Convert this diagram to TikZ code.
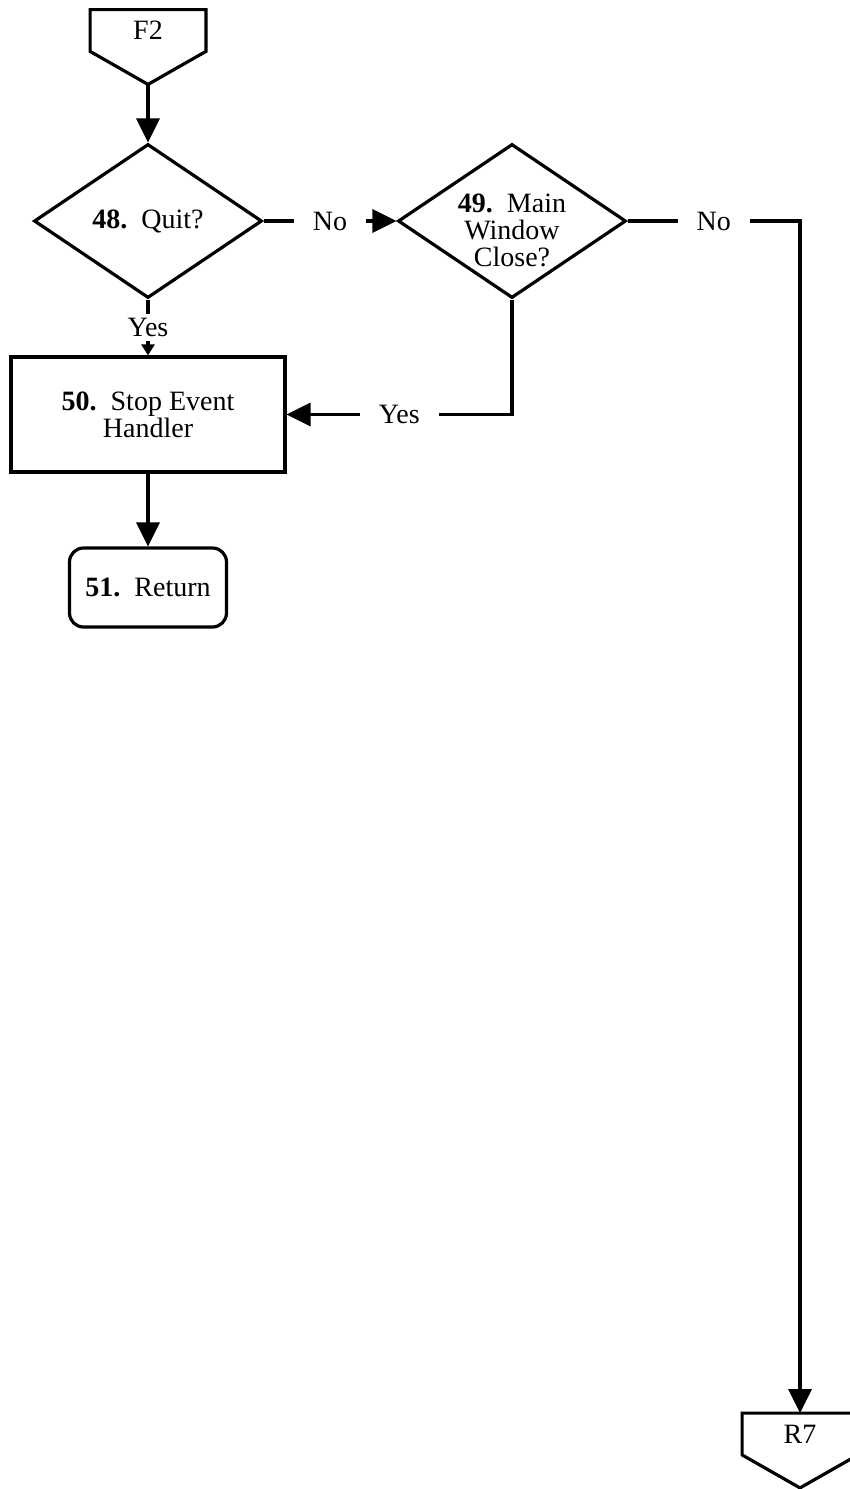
\documentclass[tikz,border=0pt]{standalone}
\usepackage{fontspec}
\setmainfont{Liberation Serif}
\usetikzlibrary{arrows.meta, calc, positioning, shapes.geometric}

\begin{document}
\begin{tikzpicture}[x=0.5pt, y=-0.5pt,
	font=\fontsize{14}{13.5}\selectfont,
	line/.style={line width=1.6pt},
	arr/.style={line, -{Triangle[length=12pt, width=11.5pt]}},
	smallarr/.style={line, -{Triangle[length=5.5pt, width=6.5pt]}},
	decision/.style={diamond, draw, line width=1.6pt,
		minimum width=114pt, minimum height=77pt, inner sep=0pt},
	procbox/.style={rectangle, draw, line width=1.6pt,
		minimum width=137pt, minimum height=57.5pt, align=center},
	termbox/.style={rectangle, draw, rounded corners=7pt, line width=1.6pt,
		minimum width=78.5pt, minimum height=39.5pt},
	connbox/.style={minimum width=57.5pt, minimum height=20.5pt, inner sep=0pt},
	gap/.style={fill=white, inner xsep=9.5pt, inner ysep=2pt}
	]
	\useasboundingbox (0,0) rectangle (850,1489);

	% off-page connector at the top
	\node[connbox] (f2) at (148,30.5) {F2};
	\draw[line] (f2.north west) -- (f2.north east) -- (f2.south east)
		-- ($(f2.south)+(0,33)$) coordinate (f2tip) -- (f2.south west) -- cycle;

	% decisions
	\node[decision, label={center:\textbf{48.}\ \ Quit?}] (d48) at (148,221) {};
	\node[decision, label={[align=center, yshift=-4.5pt]center:\textbf{49.}\ \ Main\\Window\\Close?}] (d49) at (512,221) {};

	\node[procbox] (b50) at (148,414.5) {\textbf{50.}\ \ Stop Event\\Handler};
	\node[termbox] (ret) at (148,587.5) {\textbf{51.}\ \ Return};

	% off-page connector at the bottom
	\node[connbox] (r7) at (800,1434) {R7};
	\draw[line] (r7.north west) -- (r7.north east) -- (r7.south east)
		-- ($(r7.south)+(0,33)$) -- (r7.south west) -- cycle;

	\draw[arr] (f2tip) -- (d48.north);
	\draw[arr] (d48.east) -- node[gap]{No} (d49.west);
	\draw[smallarr] (d48.south) -- node[gap, inner xsep=1pt]{Yes} (b50.north);
	\draw[arr] (d49.south) |- node[gap, pos=0.75]{Yes} (b50.east);
	\draw[arr] (b50.south) -- (ret.north);
	\draw[arr] (d49.east) -| node[gap, pos=0.25]{No} (r7.north);
\end{tikzpicture}
\end{document}
